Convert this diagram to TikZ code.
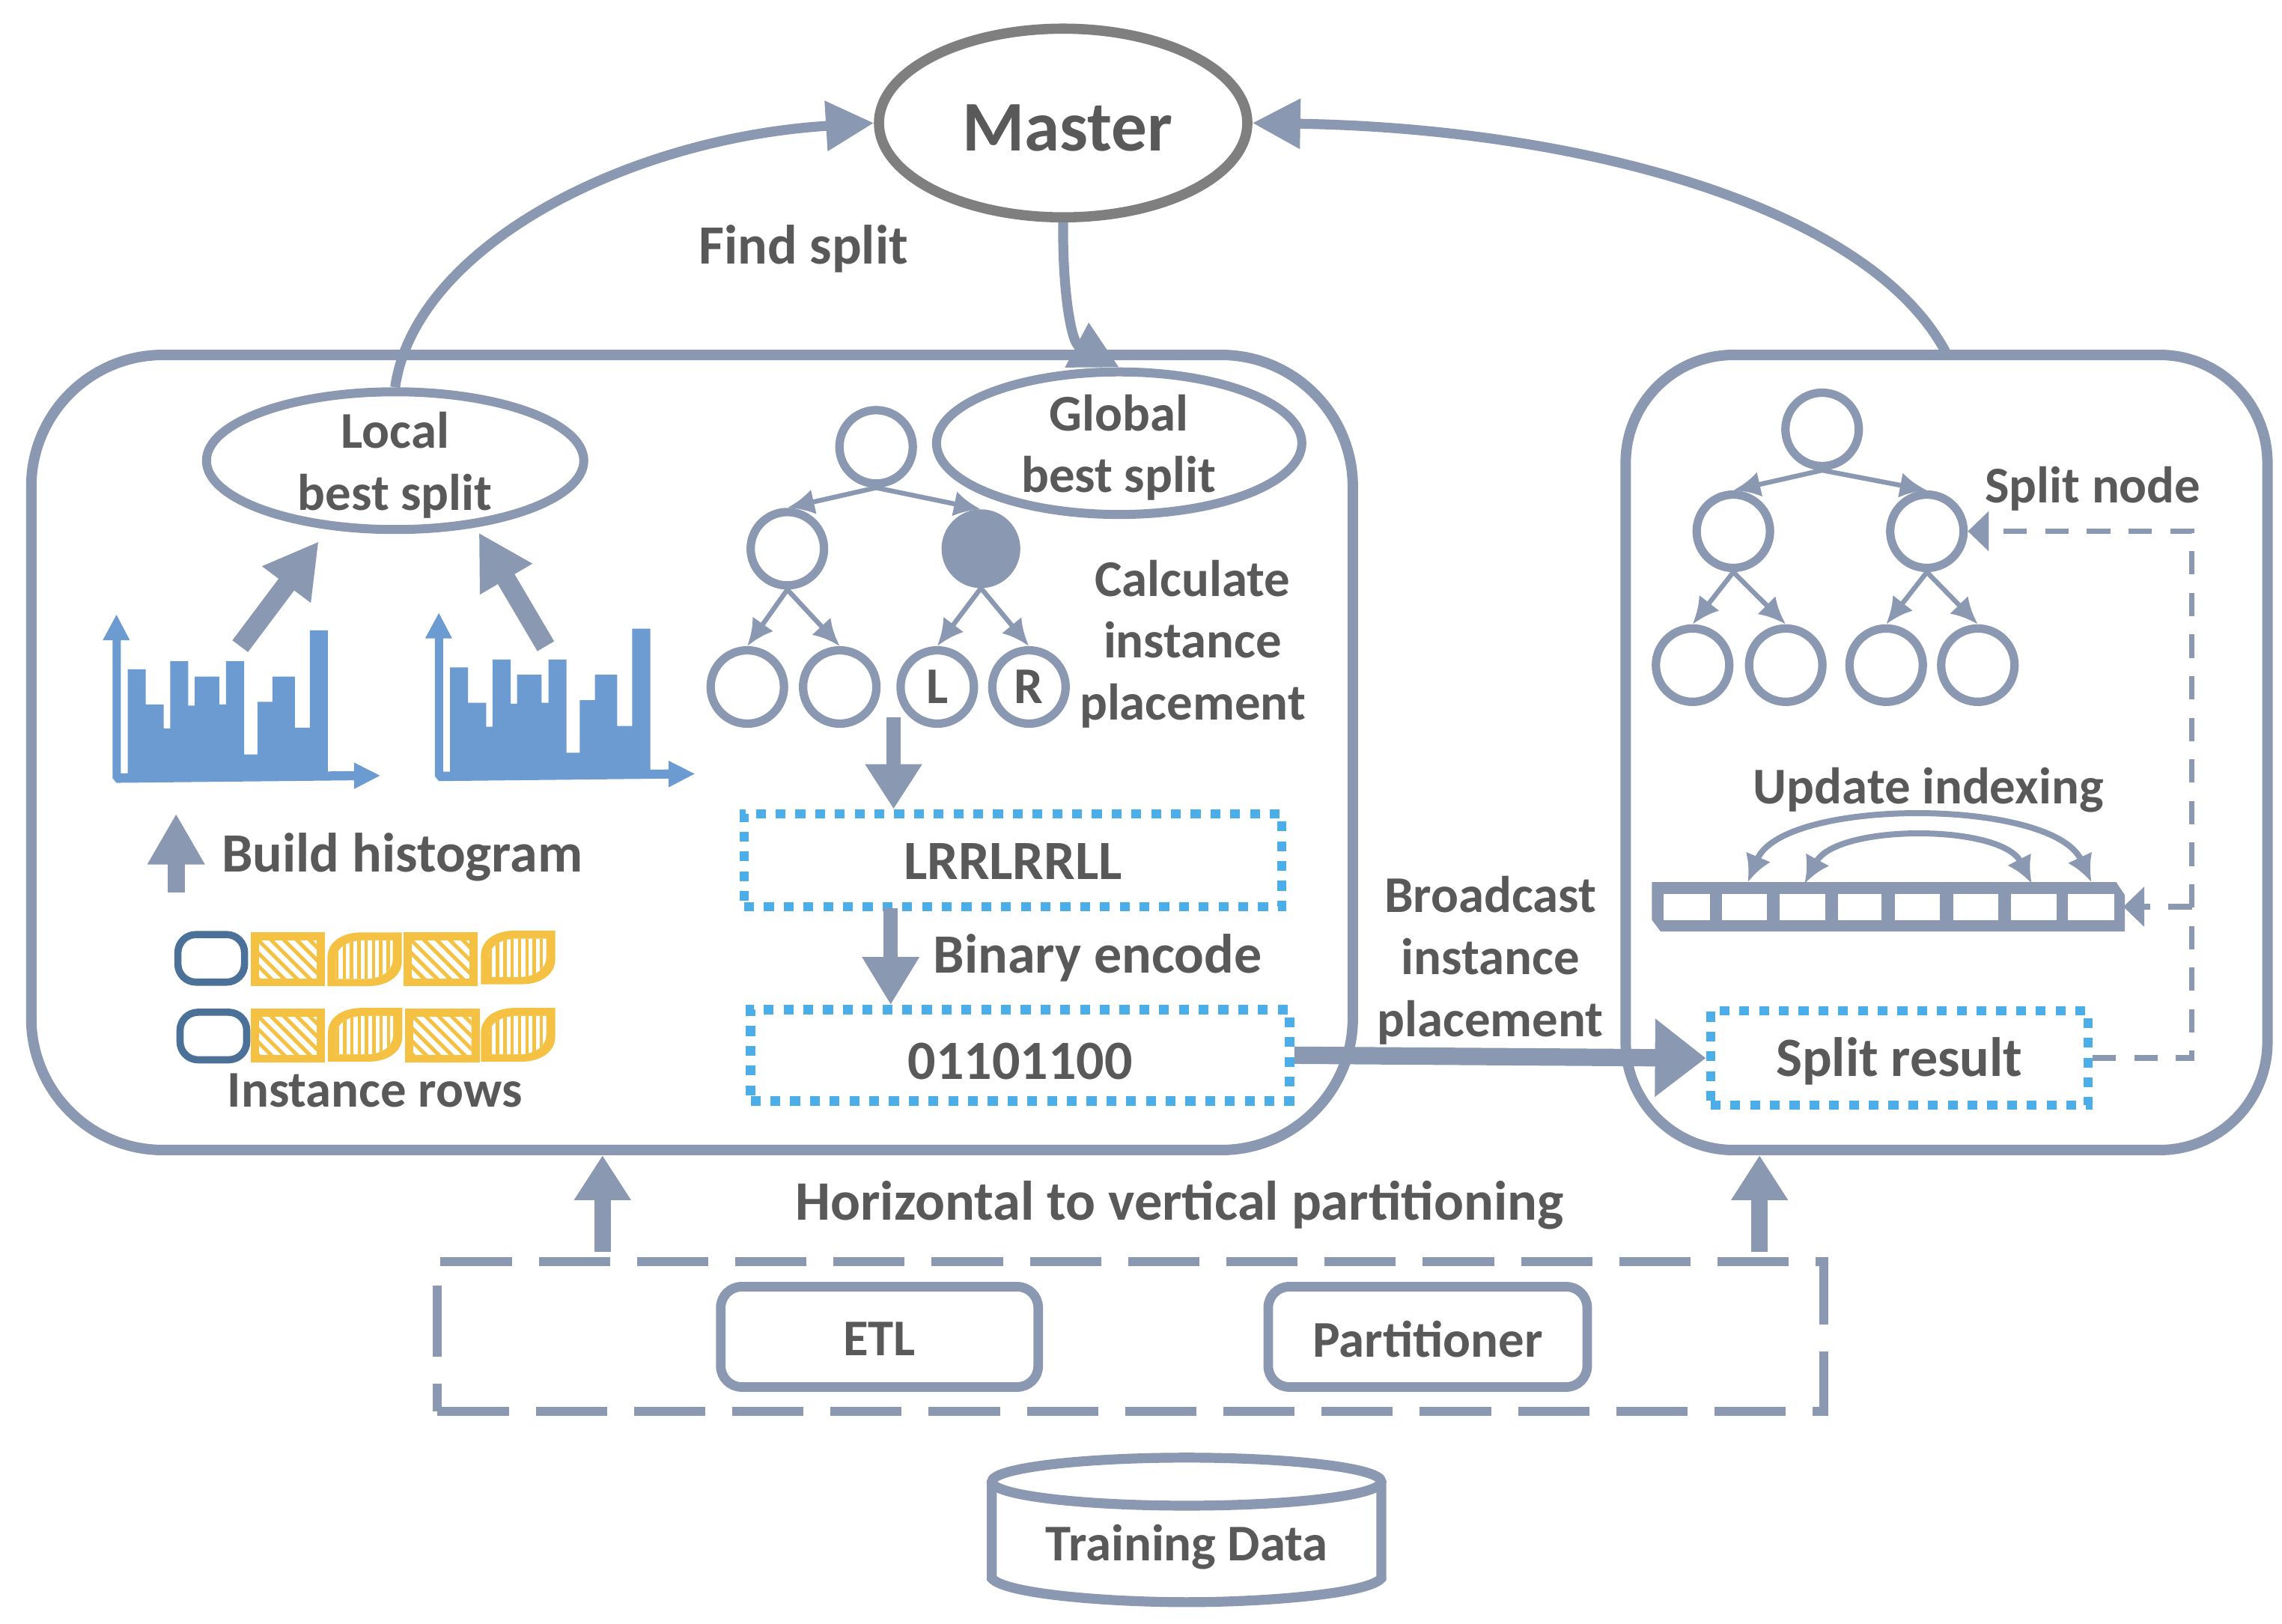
\documentclass[tikz,border=0pt]{standalone}
\usepackage{fontspec}
\setmainfont{Carlito}
\usetikzlibrary{arrows.meta,shapes.geometric,positioning}
\definecolor{gb}{HTML}{8A99B1}
\definecolor{txt}{HTML}{595959}
\definecolor{hist}{HTML}{6B9BD0}
\definecolor{pill}{HTML}{4C7199}
\definecolor{yel}{HTML}{F5C143}
\definecolor{dot}{HTML}{4BAEE8}
\definecolor{mast}{HTML}{7F7F7F}
\tikzset{
  lbl/.style={font=\bfseries\fontsize{#1}{20.7}\selectfont,text=txt,align=center,inner sep=0pt},
  lbl/.default=17.2,
  bigbox/.style={draw=gb,line width=3.5pt,rounded corners=44pt,inner sep=0pt},
  oval/.style={ellipse,draw=gb,line width=3pt,inner sep=0pt,fill=white},
  tn/.style={circle,draw=gb,line width=2.8pt,minimum size=24.5pt,inner sep=0pt,fill=white,font=\bfseries\fontsize{17.2}{20}\selectfont,text=txt},
  tnfill/.style={tn,fill=gb,minimum size=23.5pt},
  tedge/.style={draw=gb,line width=1.6pt,-{Latex[length=9pt,width=8.5pt]}},
  dotbox/.style={draw=dot,line width=3.1pt,dash pattern=on 3.3pt off 3.3pt,inner sep=0pt,font=\bfseries\fontsize{18.5}{20}\selectfont,text=txt},
  curvearrow/.style={draw=gb,line width=3.3pt,-{Triangle[length=16pt,width=16pt]}},
  fatarrow/.style={draw=gb,line width=5.5pt,-{Triangle[length=17pt,width=18pt]}},
  dashline/.style={draw=gb,line width=1.9pt,dash pattern=on 7.8pt off 6.1pt},
  rbox/.style={draw=gb,line width=3.2pt,rounded corners=7pt,inner sep=0pt,font=\bfseries\fontsize{17.2}{20}\selectfont,text=txt},
}
\newcommand{\histo}[3]{%
\begin{scope}[shift={(#1,#2)},x=0.1435pt,y=-0.1212pt]
 \fill[hist] (123,540)--(123,235)--(165,235)--(165,332)--(207,332)--(207,398)--(222,398)--(222,213)--(264,213)--(264,335)--(279,335)--(279,255)--(336,255)--(336,332)--(352,332)--(352,213)--(394,213)--(394,470)--(425,470)--(425,325)--(460,325)--(460,255)--(512,255)--(512,396)--(547,396)--(547,128)--(589,128)--(589,540)--cycle;
 \fill[hist] (88,150)--(107,150)--(107,522)--(123,522)--(123,520)--(650+#3,516)--(650+#3,492)--(710+#3,528)--(650+#3,565)--(650+#3,541)--(97,548)--(88,535)--cycle;
 \fill[hist] (97,85)--(128,155)--(65,155)--cycle;
\end{scope}}
\newcommand{\sqcell}[2]{%
\begin{scope}[shift={(#1,#2)}]
 \fill[yel] (0,0) rectangle (173,148);
 \begin{scope}
  \clip (19,22) rectangle (154,127);
  \fill[white] (19,22) rectangle (154,127);
  \foreach \k in {-120,-90,...,180} \draw[yel,line width=1.25pt] (\k,0)--(\k+125,148);
 \end{scope}
\end{scope}}
\newcommand{\leafcell}[2]{%
\begin{scope}[shift={(#1,#2)}]
 \fill[yel] (0,148)--(0,70) .. controls (0,25) and (35,0) .. (80,0)--(173,0)--(173,80) .. controls (173,120) and (140,148) .. (95,148)--cycle;
 \begin{scope}
  \clip (19,128)--(19,75) .. controls (19,45) and (45,22) .. (85,22)--(152,22)--(152,75) .. controls (152,105) and (125,128) .. (90,128)--cycle;
  \fill[white] (0,0) rectangle (173,148);
  \foreach \k in {22,39,...,160} \draw[yel,line width=1.1pt] (\k,0)--(\k,148);
 \end{scope}
\end{scope}}
\newcommand{\nudge}[2]{\raisebox{-#1}[\height][\depth]{#2}}
\begin{document}
\begin{tikzpicture}[x=0.486pt,y=-0.486pt]
\useasboundingbox (0,0) rectangle (1568,1115.6);
% big boxes
\node[bigbox,minimum width=441.3pt,minimum height=265.5pt] (leftbox) at (475.5,517) {};
\node[bigbox,rounded corners=36pt,minimum width=214.3pt,minimum height=265.5pt] (rightbox) at (1337.5,517) {};
\coordinate (rbtop) at (1338,244);
% master
\node[ellipse,draw=mast,line width=3.4pt,minimum width=123pt,minimum height=63pt,inner sep=0pt] (master) at (730.5,84.5) {};
\node[lbl=23.8] at (733.5,88) {Master};
% ovals
\node[oval,minimum width=126pt,minimum height=46pt] (local) at (271.5,316.5) {};
\node[lbl] at (271.5,319.5) {Local\\best split};
% tree left
\node[tn] (r0) at (602,307) {};
\node[tn] (a1) at (541,377) {};
\node[tnfill] (a2) at (674,377) {};
\node[tn] (b1) at (513.5,472) {};
\node[tn] (b2) at (577,472) {};
\node[tn] (b3) at (644,472) {L};
\node[tn] (b4) at (707,472) {R};
\draw[tedge] (r0.south)--(a1.north);
\draw[tedge] (r0.south)--(a2.north);
\draw[tedge] (a1.south)--(b1.north);
\draw[tedge] (a1.south)--(b2.north);
\draw[tedge] (a2.south)--(b3.north);
\draw[tedge] (a2.south)--(b4.north);
\node[oval,minimum width=122pt,minimum height=47.6pt] (global) at (769,304.5) {};
\node[lbl] at (768.6,307.5) {Global\\best split};
% curves to master
\draw[curvearrow] (local.north) .. controls (285,170) and (430,95) .. (master.west);
\draw[curvearrow] (rbtop) .. controls (1285,140) and (1080,88) .. (master.east);
\draw[curvearrow] (master.south) .. controls (730,200) and (736,235) .. (global.north);
\node[lbl=18.5] at (552,171) {Find split};
% histograms
\histo{51.4}{401.2}{0}
\histo{272.9}{400}{-18}
\coordinate (h1) at (165,444);
\coordinate (h2) at (375,444);
\coordinate (l1) at (219,372);
\coordinate (l2) at (329,366);
\draw[fatarrow,line width=6.5pt,-{Triangle[length=18pt,width=19pt]}] (h1)--(l1);
\draw[fatarrow,line width=6.5pt,-{Triangle[length=18pt,width=19pt]}] (h2)--(l2);
\coordinate (bh0) at (121,613);
\coordinate (bh1) at (121,559);
\draw[fatarrow,line width=5.8pt,-{Triangle[length=17pt,width=18pt]}] (bh0)--(bh1);
\node[lbl=18.5,anchor=west] at (152,589) {Build histogram};
% instance rows
\begin{scope}[shift={(51.4,401.2)},x=0.1435pt,y=-0.1212pt]
 \draw[pill,line width=2.4pt,rounded corners=6pt] (240,966) rectangle (395,1097);
 \draw[pill,line width=2.4pt,rounded corners=6pt] (245,1180) rectangle (400,1311);
 \sqcell{409}{960}\leafcell{588}{960}\sqcell{765}{960}\leafcell{945}{955}
 \sqcell{409}{1170}\leafcell{589}{1168}\sqcell{769}{1170}\leafcell{945}{1168}
\end{scope}
\node[lbl] at (257.5,749) {Instance rows};
% right-of-tree labels
\node[lbl] at (819.5,442.5) {Calculate\\instance\\placement};
% dotted boxes
\node[dotbox,minimum width=179.5pt,minimum height=31pt] (lrr) at (696,591) {\nudge{0.5pt}{LRRLRRLL}};
\node[dotbox,minimum width=180pt,minimum height=30.5pt] (bin) at (701,725) {\nudge{2pt}{01101100}};
\node[dotbox,minimum width=126pt,minimum height=31.5pt] (res) at (1305,727) {\nudge{1pt}{Split result}};
\coordinate (tr) at (614,493);
\draw[fatarrow,line width=4.8pt,-{Triangle[length=15pt,width=18pt]}] (tr)--(tr|-lrr.north);
\coordinate (e1) at (612,624);
\draw[fatarrow,line width=4.8pt,-{Triangle[length=16pt,width=18pt]}] (e1)--(e1|-bin.north);
\node[lbl=18.5,anchor=west] at (641,658) {Binary encode};
% broadcast
\draw[fatarrow,line width=5.8pt,-{Triangle[length=17pt,width=25pt]}] (bin.east)--(res.west);
\node[lbl] at (1024,660) {Broadcast\\instance\\placement};
% right tree
\node[tn] (s0) at (1252,295) {};
\node[tn] (c1) at (1191,365) {};
\node[tn] (c2) at (1324,365) {};
\node[tn] (d1) at (1163,457) {};
\node[tn] (d2) at (1227,457) {};
\node[tn] (d3) at (1296,457) {};
\node[tn] (d4) at (1359,457) {};
\draw[tedge] (s0.south)--(c1.north);
\draw[tedge] (s0.south)--(c2.north);
\draw[tedge] (c1.south)--(d1.north);
\draw[tedge] (c1.south)--(d2.north);
\draw[tedge] (c2.south)--(d3.north);
\draw[tedge] (c2.south)--(d4.north);
\node[lbl] at (1438,336) {Split node};
\node[lbl] at (1325,543) {Update indexing};
% array
\fill[gb] (1135,606)--(1454,606)--(1460,615)--(1460,640)--(1141,640)--(1135,632)--cycle;
\foreach \a/\b in {1143/1175,1183/1214,1223/1254,1263/1293,1302/1333,1342/1373,1382/1413,1421/1453}
  \fill[white] (\a,614) rectangle (\b,632);
\node[inner sep=0pt,minimum width=157pt,minimum height=16pt] (arr) at (1297,623) {};
\coordinate (u1) at (1201,606);
\coordinate (u2) at (1437,606);
\coordinate (v1) at (1240,607);
\coordinate (v2) at (1396,607);
\draw[draw=gb,line width=2pt,{Latex[length=9pt,width=9pt]}-{Latex[length=9pt,width=9pt]}] (u1) .. controls (1225,548) and (1410,548) .. (u2);
\draw[draw=gb,line width=2pt,{Latex[length=9pt,width=9pt]}-{Latex[length=9pt,width=9pt]}] (v1) .. controls (1262,566) and (1375,566) .. (v2);
% dashed feedback
\coordinate (fb) at (1506,727);
\coordinate (fb2) at (1506,623);
\draw[dashline,-{Triangle[length=7pt,width=13pt]}] (res.east)--(fb)--(1506,365)--(c2.east);
\draw[dashline,-{Triangle[length=7pt,width=13pt]}] (fb2)--(arr.east);
% partition
\node[lbl=18.6] at (810.5,828) {Horizontal to vertical partitioning};
\node[draw=gb,line width=3pt,dash pattern=on 23.8pt off 9pt,minimum width=463pt,minimum height=50pt,inner sep=0pt] (pbox) at (777,918) {};
\node[rbox,minimum width=106pt,minimum height=33.5pt] (etl) at (604.3,918.5) {\nudge{0.7pt}{ETL}};
\node[rbox,minimum width=106.5pt,minimum height=33.5pt] (part) at (981,918.5) {\nudge{0.7pt}{Partitioner}};
\coordinate (p1) at (414,860);
\coordinate (p2) at (1209,860);
\draw[fatarrow,line width=5.6pt,-{Triangle[length=15pt,width=18pt]}] (p1)--(p1|-leftbox.south);
\draw[fatarrow,line width=5.6pt,-{Triangle[length=15pt,width=18pt]}] (p2)--(p2|-rightbox.south);
% cylinder
\draw[gb,line width=3.3pt] (815.3,1018) ellipse[x radius=133.8,y radius=16.5];
\draw[gb,line width=3.3pt] (681.5,1018)--(681.5,1084.4) .. controls (690,1095) and (760,1100.8) .. (815.3,1100.8) .. controls (870,1100.8) and (940,1095) .. (949.1,1084.4)--(949.1,1018);
\node[lbl,minimum width=100pt] (td) at (815.5,1063) {Training Data};
\end{tikzpicture}
\end{document}
